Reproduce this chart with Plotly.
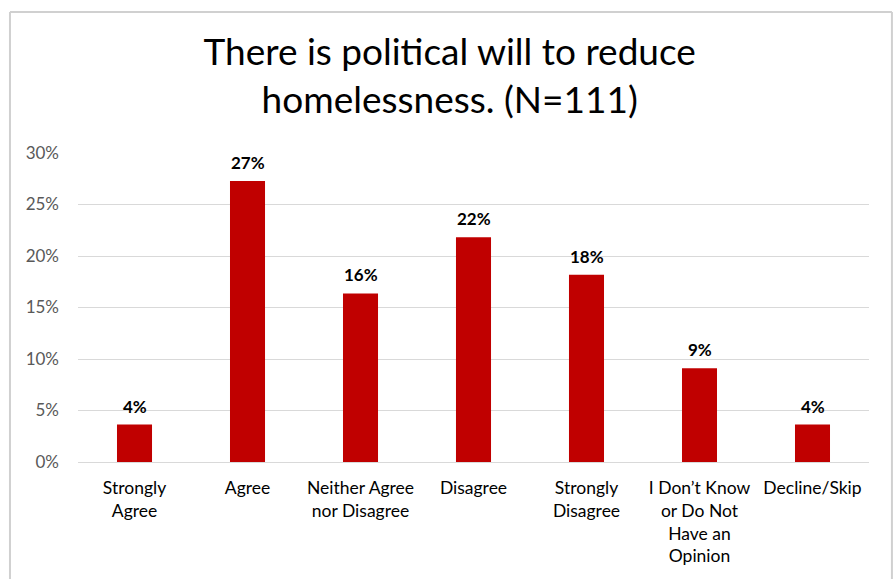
import plotly.graph_objects as go

categories = ["Strongly<br>Agree", "Agree", "Neither Agree<br>nor Disagree", "Disagree",
              "Strongly<br>Disagree", "I Don’t Know<br>or Do Not<br>Have an<br>Opinion", "Decline/Skip"]
values = [3.64, 27.27, 16.36, 21.82, 18.18, 9.09, 3.64]
labels = ["4%", "27%", "16%", "22%", "18%", "9%", "4%"]
yticks = [0, 5, 10, 15, 20, 25, 30]
ytick_text = ["0%", "5%", "10%", "15%", "20%", "25%", "30%"]

FONT = "Lato, 'Open Sans', sans-serif"

fig = go.Figure()
fig.add_trace(go.Bar(x=categories, y=values, marker=dict(color="#C00000", line=dict(width=0)),
                     hoverinfo="skip"))

for c, v, t in zip(categories, values, labels):
    fig.add_annotation(x=c, y=v, text="<b>%s</b>" % t, showarrow=False, yanchor="bottom",
                       yshift=6, font=dict(family=FONT, size=17, color="#000000"))

border = dict(color="#D0D0D0", width=2)
fig.update_layout(
    width=894, height=579,
    margin=dict(l=78, r=25, t=153, b=117, autoexpand=False),
    paper_bgcolor="white", plot_bgcolor="white",
    bargap=0.69,
    showlegend=False,
    title=dict(text="There is political will to reduce<br>homelessness. (N=111)",
               x=0.503, xanchor="center", y=0.8876, yanchor="middle",
               font=dict(family=FONT, size=37, color="#000000")),
    xaxis=dict(showline=True, linecolor="#D9D9D9", linewidth=1, ticks="", automargin=False,
               tickfont=dict(family=FONT, size=17.5, color="#000000"), showgrid=False,
               ticklabelstandoff=10, fixedrange=True),
    yaxis=dict(range=[0, 30], tickvals=yticks, ticktext=ytick_text, showgrid=True,
               gridcolor="#D9D9D9", gridwidth=1, zeroline=False, ticks="", automargin=False,
               tickfont=dict(family=FONT, size=17, color="#595959"), ticklabelstandoff=18,
               fixedrange=True),
    shapes=[
        dict(type="line", xref="paper", yref="paper", x0=-0.086, x1=-0.086, y0=-0.5, y1=1.456,
             line=border),
        dict(type="line", xref="paper", yref="paper", x0=1.029, x1=1.029, y0=-0.5, y1=1.456,
             line=border),
        dict(type="line", xref="paper", yref="paper", x0=-0.086, x1=1.029, y0=1.456, y1=1.456,
             line=border),
    ],
)

fig.write_html("out.html", config={"displayModeBar": False},
               post_script="document.body.style.margin='0';")
